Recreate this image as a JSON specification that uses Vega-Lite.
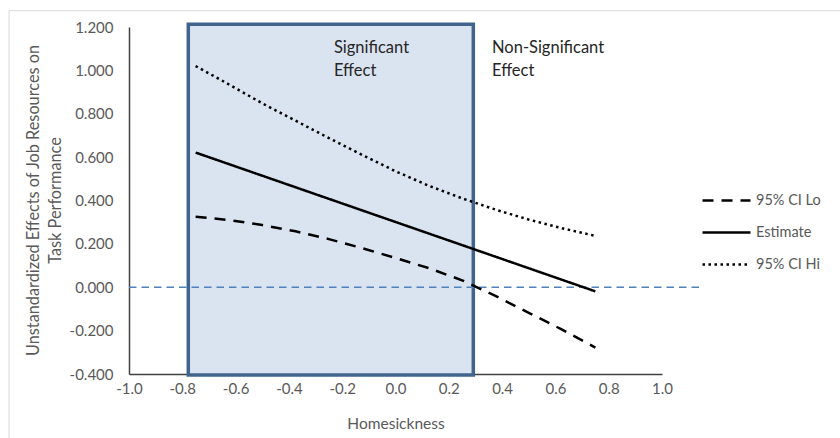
{
  "$schema": "https://vega.github.io/schema/vega-lite/v6.json",
  "width": 533,
  "height": 347,
  "autosize": {"type": "none"},
  "padding": {"left": 129, "top": 27, "right": 178, "bottom": 64},
  "background": "white",
  "config": {
    "view": {"stroke": null},
    "font": "Lato",
    "axis": {"labelFont": "Lato", "titleFont": "Lato", "labelColor": "#595959", "titleColor": "#595959", "labelFontSize": 15, "titleFontSize": 15.5, "titleFontWeight": "normal", "grid": false, "ticks": false, "domainColor": "#404040", "domainWidth": 1.5, "labelFlush": false},
    "legend": {"labelFont": "Lato"}
  },
  "datasets": {
    "frame": [{"x1": -1.45, "x2": 2.2, "y1": -0.9, "y2": 1.275}],
    "box": [{"x1": -0.7775, "x2": 0.292, "y1": -0.405, "y2": 1.213}],
    "zero": [{"x1": -1.0, "x2": 1.143, "y": 0}],
    "notes": [
      {"x": -0.231, "y": 1.104, "t": "Significant"},
      {"x": -0.231, "y": 0.998, "t": "Effect"},
      {"x": 0.362, "y": 1.104, "t": "Non-Significant"},
      {"x": 0.362, "y": 0.998, "t": "Effect"}
    ],
    "lines": [
      {"series": "Estimate", "x": -0.75, "y": 0.621},
      {"series": "Estimate", "x": 0.0, "y": 0.301},
      {"series": "Estimate", "x": 0.75, "y": -0.019},
      {"series": "95% CI Hi", "x": -0.75, "y": 1.02},
      {"series": "95% CI Hi", "x": -0.625, "y": 0.935},
      {"series": "95% CI Hi", "x": -0.5, "y": 0.848},
      {"series": "95% CI Hi", "x": -0.375, "y": 0.768},
      {"series": "95% CI Hi", "x": -0.25, "y": 0.688},
      {"series": "95% CI Hi", "x": -0.125, "y": 0.61},
      {"series": "95% CI Hi", "x": 0.0, "y": 0.535},
      {"series": "95% CI Hi", "x": 0.125, "y": 0.468},
      {"series": "95% CI Hi", "x": 0.25, "y": 0.41},
      {"series": "95% CI Hi", "x": 0.375, "y": 0.358},
      {"series": "95% CI Hi", "x": 0.5, "y": 0.312},
      {"series": "95% CI Hi", "x": 0.625, "y": 0.272},
      {"series": "95% CI Hi", "x": 0.75, "y": 0.237},
      {"series": "95% CI Lo", "x": -0.75, "y": 0.325},
      {"series": "95% CI Lo", "x": -0.625, "y": 0.31},
      {"series": "95% CI Lo", "x": -0.5, "y": 0.287},
      {"series": "95% CI Lo", "x": -0.375, "y": 0.258},
      {"series": "95% CI Lo", "x": -0.25, "y": 0.222},
      {"series": "95% CI Lo", "x": -0.125, "y": 0.18},
      {"series": "95% CI Lo", "x": 0.0, "y": 0.135},
      {"series": "95% CI Lo", "x": 0.125, "y": 0.088},
      {"series": "95% CI Lo", "x": 0.25, "y": 0.032},
      {"series": "95% CI Lo", "x": 0.375, "y": -0.04},
      {"series": "95% CI Lo", "x": 0.5, "y": -0.118},
      {"series": "95% CI Lo", "x": 0.625, "y": -0.195},
      {"series": "95% CI Lo", "x": 0.75, "y": -0.278}
    ]
  },
  "layer": [
    {
      "data": {"name": "frame"},
      "mark": {"type": "rect", "fill": null, "stroke": "#d9d9d9", "strokeWidth": 1},
      "encoding": {
        "x": {"field": "x1", "type": "quantitative", "scale": {"domain": [-1, 1], "nice": false, "zero": false},
          "axis": {"values": [-1, -0.8, -0.6, -0.4, -0.2, 0, 0.2, 0.4, 0.6, 0.8, 1], "labelExpr": "replace(format(datum.value, '.1f'), '\u2212', '-')", "title": "Homesickness", "labelPadding": 7, "titleBaseline": "middle", "titleY": 49}},
        "x2": {"field": "x2"},
        "y": {"field": "y1", "type": "quantitative", "scale": {"domain": [-0.4, 1.2], "nice": false, "zero": false},
          "axis": {"values": [-0.4, -0.2, 0, 0.2, 0.4, 0.6, 0.8, 1.0, 1.2], "labelExpr": "replace(format(datum.value, '.3f'), '\u2212', '-')", "labelPadding": 16,
            "title": ["Unstandardized Effects of Job Resources on", "Task Performance"], "titleAngle": -90, "titleX": -104, "titleY": 173, "titleBaseline": "top", "titleAlign": "center", "titleLineHeight": 22, "titleFontSize": 16.3}},
        "y2": {"field": "y2"}
      }
    },
    {
      "data": {"name": "box"},
      "mark": {"type": "rect", "fill": "#dae3f0", "stroke": "#41648f", "strokeWidth": 3.5},
      "encoding": {
        "x": {"field": "x1", "type": "quantitative"},
        "x2": {"field": "x2"},
        "y": {"field": "y1", "type": "quantitative"},
        "y2": {"field": "y2"}
      }
    },
    {
      "data": {"name": "zero"},
      "mark": {"type": "rule", "stroke": "#4f81bd", "strokeWidth": 1.5, "strokeDash": [7.5, 5]},
      "encoding": {
        "x": {"field": "x1", "type": "quantitative"},
        "x2": {"field": "x2"},
        "y": {"field": "y", "type": "quantitative"}
      }
    },
    {
      "data": {"name": "lines"},
      "mark": {"type": "line", "color": "black", "strokeWidth": 2.5, "strokeCap": "butt"},
      "encoding": {
        "x": {"field": "x", "type": "quantitative"},
        "y": {"field": "y", "type": "quantitative"},
        "strokeDash": {"field": "series", "type": "nominal",
          "scale": {"domain": ["95% CI Lo", "Estimate", "95% CI Hi"], "range": [[11, 8], [1, 0], [2.5, 3.5]]},
          "legend": {"title": null, "orient": "none", "legendX": 572, "legendY": 148, "symbolType": "stroke", "symbolSize": 2304, "symbolStrokeWidth": 2.5, "symbolStrokeColor": "black", "labelFontSize": 14.5, "labelColor": "#595959", "labelOffset": 4, "rowPadding": -2}
        }
      }
    },
    {
      "data": {"name": "notes"},
      "mark": {"type": "text", "align": "left", "baseline": "middle", "fontSize": 16.5, "color": "#262626", "font": "Lato"},
      "encoding": {
        "x": {"field": "x", "type": "quantitative"},
        "y": {"field": "y", "type": "quantitative"},
        "text": {"field": "t"}
      }
    }
  ]
}
